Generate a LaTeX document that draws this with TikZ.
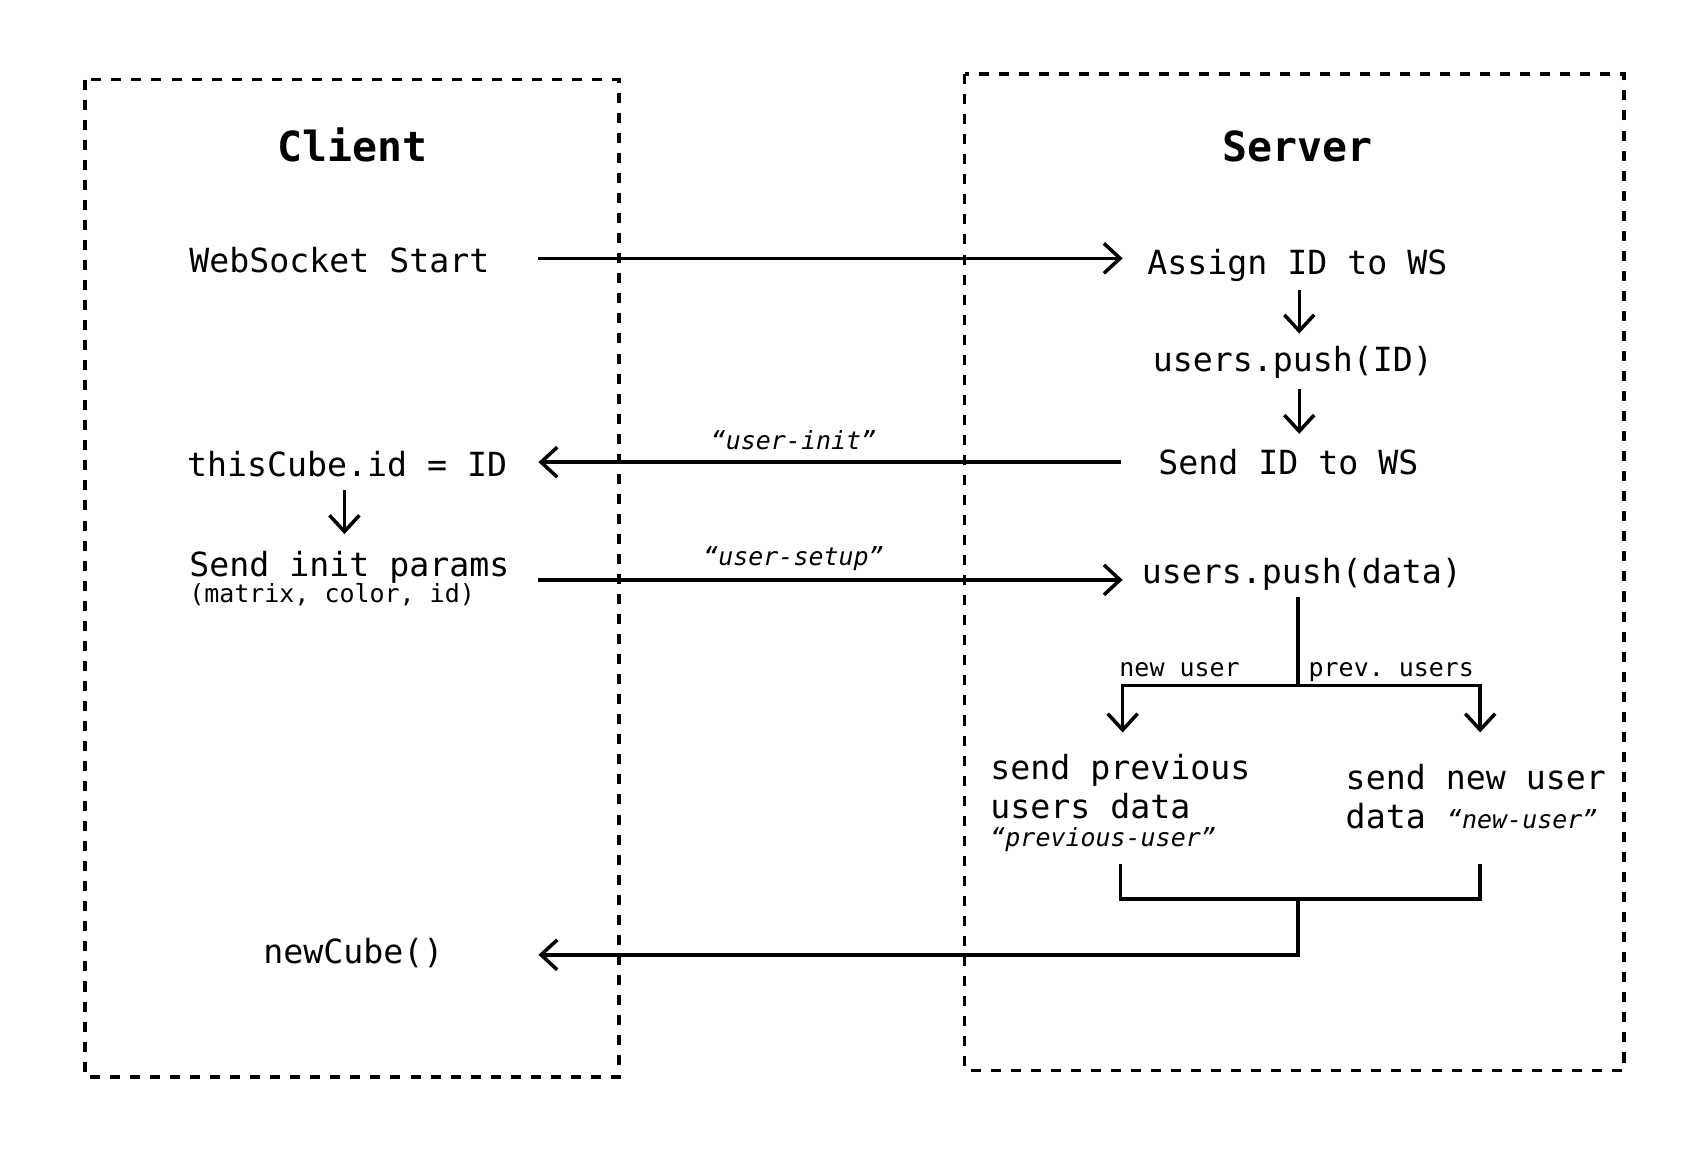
\documentclass[tikz,border=0pt]{standalone}
\usepackage{fontspec}
\setmonofont{DejaVu Sans Mono}
\usetikzlibrary{arrows.meta,calc}
\tikzset{
  txt/.style={inner sep=0pt, anchor=base west, font=\ttfamily\fontsize{9.45}{11}\selectfont},
  ttl/.style={inner sep=0pt, anchor=base, font=\ttfamily\bfseries\fontsize{11.8}{14}\selectfont},
  sml/.style={inner sep=0pt, font=\ttfamily\fontsize{7.1}{9}\selectfont},
  msg/.style={inner sep=0pt, anchor=base, font=\ttfamily\itshape\fontsize{7.1}{9}\selectfont},
  lane/.style={draw, line width=1pt, dash pattern=on 2.85pt off 2.85pt},
  arr/.style={line width=1pt, -{Straight Barb[length=4.6pt,width=8.5pt]}},
  ln/.style={line width=1pt}
}
\begin{document}
\begin{tikzpicture}[x=0.0109cm, y=-0.0109cm]
\useasboundingbox (0,0) rectangle (1567,1055);
% lanes
\draw[lane] (78,73) rectangle (568,988);
\draw[lane] (885,68) rectangle (1490,982);
\node[ttl] (client) at (323,148) {Client};
\node[ttl] (server) at (1190,148) {Server};
% client nodes
\node[txt] (ws) at (173,250) {WebSocket Start};
\node[txt] (tc) at (171,437) {thisCube.id = ID};
\node[txt] (sip) at (173,529) {Send init params};
\node[sml, anchor=base west] (sipn) at (173,553) {(matrix, color, id)};
\node[txt] (nc) at (241,884) {newCube()};
% server nodes
\node[txt] (as) at (1052,252) {Assign ID to WS};
\node[txt] (upid) at (1057,341) {users.push(ID)};
\node[txt] (sid) at (1062,435) {Send ID to WS};
\node[txt] (upd) at (1047,535) {users.push(data)};
\node[sml, anchor=base east] (lnew) at (1138,621) {new user};
\node[sml, anchor=base west] (lprev) at (1200,621) {prev. users};
\node[txt] (spu) at (908,715) {send previous};
\node[txt] (spu2) at (908,751) {users data};
\node[msg, anchor=base west] (spu3) at (908,777) {“previous-user”};
\node[txt] (snu) at (1234,724) {send new user};
\node[txt] (snu2) at (1234,760) {data};
\node[msg, anchor=base west] (snu3) at (1327,760) {“new-user”};
% message labels
\node[msg] (mi) at (728,412) {“user-init”};
\node[msg] (ms) at (728,519) {“user-setup”};
% coordinates for connectors
\coordinate (a1s) at (494,237); \coordinate (a1e) at (1030,237);
\coordinate (a2s) at (1192,266); \coordinate (a2e) at (1192,306);
\coordinate (a3s) at (1192,357); \coordinate (a3e) at (1192,398);
\coordinate (a4s) at (1028,424); \coordinate (a4e) at (494,424);
\coordinate (a5s) at (316,450); \coordinate (a5e) at (316,490);
\coordinate (a6s) at (494,532); \coordinate (a6e) at (1030,532);
\coordinate (bs) at (1191,548); \coordinate (bm) at (1191,629);
\coordinate (bl) at (1030,629); \coordinate (br) at (1358,629);
\coordinate (ble) at (1030,672); \coordinate (bre) at (1358,672);
\coordinate (ml) at (1028,793); \coordinate (mr) at (1358,793);
\coordinate (mlb) at (1028,825); \coordinate (mrb) at (1358,825);
\coordinate (mm) at (1191,825); \coordinate (md) at (1191,876);
\coordinate (me) at (494,876);
% connectors
\draw[arr] (a1s) -- (a1e);
\draw[arr] (a2s) -- (a2e);
\draw[arr] (a3s) -- (a3e);
\draw[arr] (a4s) -- (a4e);
\draw[arr] (a5s) -- (a5e);
\draw[arr] (a6s) -- (a6e);
\draw[ln] (bs) -- (bm);
\draw[arr, {Straight Barb[length=4.6pt,width=8.5pt]}-{Straight Barb[length=4.6pt,width=8.5pt]}] (ble) -- (bl) -- (br) -- (bre);
\draw[ln] (ml) -- (mlb) -- (mrb) -- (mr);
\draw[arr] (mm) -- (md) -- (me);
\end{tikzpicture}
\end{document}
